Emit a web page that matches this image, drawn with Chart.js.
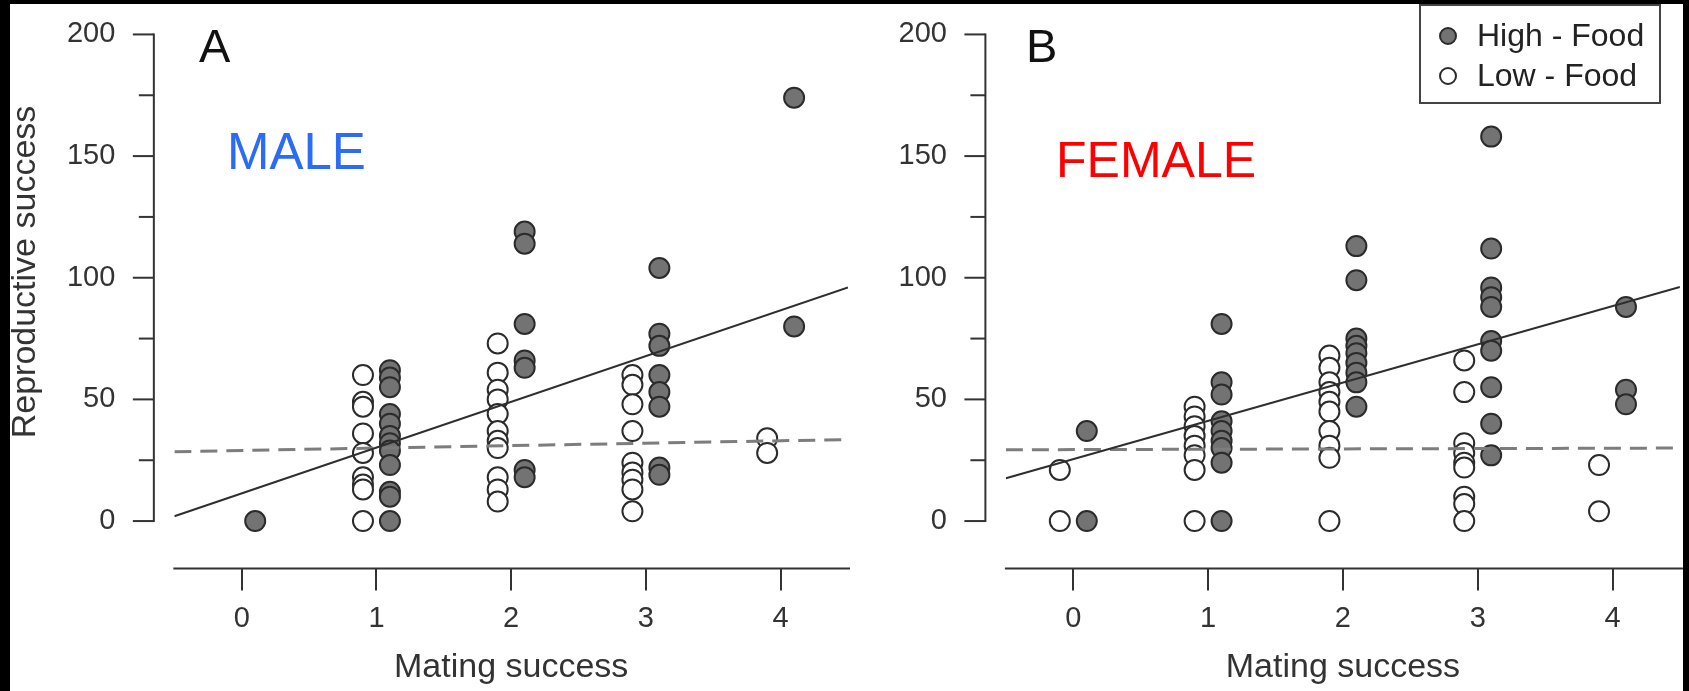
<!DOCTYPE html>
<html><head><meta charset="utf-8">
<script src="https://cdn.jsdelivr.net/npm/chart.js@4.4.1/dist/chart.umd.min.js"></script>
<style>
html,body{margin:0;padding:0;background:#fff;}
body{width:1689px;height:691px;position:relative;overflow:hidden;}
canvas{position:absolute;top:0;}
#cA{left:0;} #cB{left:850px;}
.blk{position:absolute;background:#000;}
</style></head><body>
<canvas id="cA" width="850" height="691"></canvas>
<canvas id="cB" width="839" height="691"></canvas>
<div class="blk" style="left:0;top:0;width:10px;height:691px"></div>
<div class="blk" style="left:0;top:0;width:1689px;height:4px"></div>
<div class="blk" style="left:1683px;top:0;width:6px;height:691px"></div>
<script>
// ---- data ----
const matingLevels = [0, 1, 2, 3, 4];
const xTickLabels = ['0', '1', '2', '3', '4'];
const yTickValues = [0, 25, 50, 75, 100, 125, 150, 175, 200];
const yTickLabels = ['0', '', '50', '', '100', '', '150', '', '200'];
// reproductive success values per mating-success level (index = level)
const maleHigh = [[0], [62, 59, 55, 44, 40, 35, 32, 29, 23, 12, 10, 0], [119, 114, 81, 66, 63, 21, 18], [104, 77, 72, 60, 53, 47, 22, 19], [174, 80]];
const maleLow = [[], [60, 49, 47, 36, 28, 18, 15, 13, 0], [73, 61, 54, 50, 44, 37, 33, 30, 18, 13, 8], [60, 56, 48, 37, 24, 20, 17, 13, 4], [34, 28]];
const femaleHigh = [[37, 0], [81, 57, 52, 41, 37, 33, 30, 24, 0], [113, 99, 75, 72, 69, 65, 61, 57, 47], [158, 112, 96, 92, 88, 74, 70, 55, 40, 27], [88, 54, 48]];
const femaleLow = [[21, 0], [47, 43, 39, 35, 31, 27, 21, 0], [68, 63, 57, 53, 49, 45, 37, 31, 26, 0], [66, 53, 32, 28, 24, 22, 10, 7, 0], [23, 4]];
// trend lines: values at the ends of the x range
const trendX = [-0.5, 4.5];
const maleSolid = [2.0, 96.0];
const maleDashed = [28.5, 33.5];
const femaleSolid = [17.6, 96.2];
const femaleDashed = [29.3, 30.0];
const legendLabels = ['High - Food', 'Low - Food'];

// ---- styling / build ----
const FONT = "'Liberation Sans', Arial, sans-serif";
const JIT = 0.1;
function pts(groups, off) {
  const out = [];
  groups.forEach((vals, i) => vals.forEach(v => out.push({x: matingLevels[i] + off, y: v})));
  return out;
}
function line(ys) { return trendX.map((x, i) => ({x, y: ys[i]})); }

const axisPlugin = {
  id: 'rAxes',
  afterDraw(chart) {
    const {ctx, chartArea: a, scales: {x, y}} = chart;
    ctx.save();
    ctx.strokeStyle = '#333'; ctx.lineWidth = 2;
    ctx.beginPath();
    ctx.moveTo(x.getPixelForValue(-0.5) - 1, a.bottom);
    ctx.lineTo(x.getPixelForValue(4.5) + 3, a.bottom);
    ctx.stroke();
    const ax = a.left - 20.5;
    ctx.beginPath();
    ctx.moveTo(ax, y.getPixelForValue(0) + 1);
    ctx.lineTo(ax, y.getPixelForValue(200) - 1);
    ctx.stroke();
    yTickValues.forEach((v, i) => {
      const py = y.getPixelForValue(v);
      const len = yTickLabels[i] ? 21 : 15;
      ctx.beginPath(); ctx.moveTo(ax - len, py); ctx.lineTo(ax, py); ctx.stroke();
    });
    ctx.restore();
  }
};

function annotPlugin(cfg) {
  return {
    id: 'annot',
    afterDraw(chart) {
      const ctx = chart.ctx;
      ctx.save();
      ctx.textBaseline = 'alphabetic'; ctx.textAlign = 'left';
      ctx.fillStyle = '#111';
      ctx.font = '47px ' + FONT;
      ctx.fillText(cfg.letter, cfg.letterX, 62);
      ctx.fillStyle = cfg.sexColor;
      ctx.font = cfg.sexSize + 'px ' + FONT;
      ctx.fillText(cfg.sex, cfg.sexX, cfg.sexY);
      if (cfg.yTitle) {
        ctx.save();
        ctx.translate(35, 272); ctx.rotate(-Math.PI / 2);
        ctx.textAlign = 'center'; ctx.fillStyle = '#333';
        ctx.font = '34px ' + FONT;
        ctx.fillText(cfg.yTitle, 0, 0);
        ctx.restore();
      }
      if (cfg.legend) {
        const L = cfg.legend;
        ctx.fillStyle = '#fff';
        ctx.fillRect(L.x, L.y, L.w, L.h);
        ctx.strokeStyle = '#444'; ctx.lineWidth = 2;
        ctx.strokeRect(L.x, L.y, L.w, L.h);
        const ds = chart.data.datasets;
        [ds[2], ds[3]].forEach((d, i) => {
          const cy = L.y + 31 + i * 40;
          ctx.beginPath(); ctx.arc(L.x + 28, cy, 8, 0, Math.PI * 2);
          ctx.fillStyle = d.backgroundColor; ctx.fill();
          ctx.strokeStyle = d.borderColor; ctx.lineWidth = 2; ctx.stroke();
          ctx.fillStyle = '#222'; ctx.font = '32px ' + FONT;
          ctx.textBaseline = 'middle';
          ctx.fillText(legendLabels[i], L.x + 57, cy + 1);
        });
      }
      ctx.restore();
    }
  };
}

function makeChart(id, high, low, solid, dashed, o) {
  return new Chart(document.getElementById(id), {
    type: 'scatter',
    data: {
      datasets: [
        {label: 'trend', type: 'line', data: line(solid), borderColor: '#2e2e2e', borderWidth: 2, pointRadius: 0, fill: false, order: 0},
        {label: 'trend2', type: 'line', data: line(dashed), borderColor: '#7d7d7d', borderWidth: 3, borderDash: [17, 9], pointRadius: 0, fill: false, order: 1},
        {label: legendLabels[0], data: pts(high, JIT), backgroundColor: '#737373', borderColor: '#2b2b2b', borderWidth: 2, pointRadius: 10, order: 2},
        {label: legendLabels[1], data: pts(low, -JIT), backgroundColor: '#ffffff', borderColor: '#2b2b2b', borderWidth: 2, pointRadius: 10, order: 3}
      ]
    },
    options: {
      responsive: false, animation: false, events: [],
      layout: {autoPadding: false, padding: {left: 0, right: o.padRight, top: 17.4, bottom: 0}},
      plugins: {legend: {display: false}, tooltip: {enabled: false}},
      scales: {
        x: {
          type: 'linear', min: -0.5, max: 4.5,
          border: {display: false},
          grid: {display: true, drawOnChartArea: false, drawTicks: true, tickLength: 22, color: '#333', lineWidth: 2},
          afterBuildTicks: s => { s.ticks = matingLevels.map(v => ({value: v})); },
          ticks: {padding: 11, color: '#333', font: {family: FONT, size: 29}, autoSkip: false, maxRotation: 0,
            callback: (v, i) => xTickLabels[i]},
          title: {display: true, text: 'Mating success', color: '#333', font: {family: FONT, size: 34}, padding: {top: 0, bottom: 3}},
          afterFit: s => { s.height = 122.5; }
        },
        y: {
          type: 'linear', min: -19.5, max: 207,
          border: {display: false},
          grid: {display: true, drawOnChartArea: false, drawTicks: true, tickLength: 59, color: 'rgba(0,0,0,0)'},
          afterBuildTicks: s => { s.ticks = yTickValues.map(v => ({value: v})); },
          ticks: {padding: 0, color: '#333', font: {family: FONT, size: 29}, autoSkip: false,
            callback: (v, i) => yTickLabels[i]},
          afterFit: s => { s.width = o.left; }
        }
      }
    },
    plugins: [axisPlugin, annotPlugin(o.annot)]
  });
}

makeChart('cA', maleHigh, maleLow, maleSolid, maleDashed, {
  left: 174.35, padRight: 2,
  annot: {letter: 'A', letterX: 199, sex: 'MALE', sexColor: '#2a6cf5', sexSize: 51, sexX: 227, sexY: 169, yTitle: 'Reproductive success'}
});
makeChart('cB', femaleHigh, femaleLow, femaleSolid, femaleDashed, {
  left: 155.9, padRight: 9.1,
  annot: {letter: 'B', letterX: 176, sex: 'FEMALE', sexColor: '#ff0000', sexSize: 50, sexX: 206, sexY: 177,
    legend: {x: 570, y: 5, w: 240, h: 98}}
});
</script>
</body></html>
